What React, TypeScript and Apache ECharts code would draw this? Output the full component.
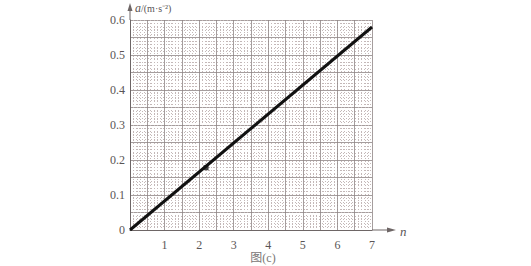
import React, { useEffect, useRef } from "react";
import * as echarts from "echarts";

// Fitted straight line a–n
const lineN: number[] = [0, 7];
const lineA: number[] = [0, 0.58];
// The one visible plotted point on the line
const pointN: number[] = [2.2];
const pointA: number[] = [0.178];
// Tick labels
const xTickLabels: string[] = ["", "1", "2", "3", "4", "5", "6", "7"];
const yTickLabels: string[] = ["0", "0.1", "0.2", "0.3", "0.4", "0.5", "0.6"];
const xName = "n";
const yNameItalic = "a";
const yNameRest = "/(m·s⁻²)";
const caption = "图(c)";

const SERIF = "Liberation Serif";
const MAJOR = "#8e8484";
const MINOR = "#c4b8b8";
const TEXT = "#5a5555";

export default function App() {
  const ref = useRef<HTMLDivElement>(null);
  useEffect(() => {
    document.body.style.margin = "0";
    const chart = echarts.init(ref.current!, null, { renderer: "svg" });
    const lineData = lineN.map((n, i) => [n, lineA[i]]);
    const pointData = pointN.map((n, i) => [n, pointA[i]]);
    const option: any = {
      animation: false,
      backgroundColor: "#ffffff",
      grid: { left: 130, right: 159, top: 20, bottom: 36 },
      xAxis: {
        type: "value",
        min: 0,
        max: 7,
        interval: 0.5,
        axisLine: { show: true, lineStyle: { color: "#6e6666", width: 1 } },
        axisTick: { show: false },
        axisLabel: {
          color: TEXT,
          fontFamily: SERIF,
          fontSize: 12,
          margin: 9,
          formatter: (v: number) => (Number.isInteger(v) ? xTickLabels[v] ?? "" : ""),
        },
        splitLine: { show: true, lineStyle: { color: MAJOR, width: 0.8 } },
        minorTick: { show: false, splitNumber: 5 },
        minorSplitLine: { show: true, lineStyle: { color: MINOR, width: 1, type: [1, 2] } },
      },
      yAxis: {
        type: "value",
        min: 0,
        max: 0.6,
        interval: 0.05,
        axisLine: { show: true, lineStyle: { color: "#6e6666", width: 1 } },
        axisTick: { show: false },
        axisLabel: {
          color: TEXT,
          fontFamily: SERIF,
          fontSize: 12,
          margin: 5,
          formatter: (v: number) => {
            const k = Math.round(v * 20);
            return k % 2 === 0 ? yTickLabels[k / 2] ?? "" : "";
          },
        },
        splitLine: { show: true, lineStyle: { color: MAJOR, width: 0.8 } },
        minorTick: { show: false, splitNumber: 5 },
        minorSplitLine: { show: true, lineStyle: { color: MINOR, width: 1, type: [1, 2] } },
      },
      series: [
        {
          type: "line",
          data: lineData,
          symbol: "none",
          lineStyle: { color: "#111111", width: 3 },
          z: 5,
        },
        {
          type: "scatter",
          data: pointData,
          symbol: "rect",
          symbolSize: 5,
          itemStyle: { color: "#111111" },
          z: 6,
        },
      ],
    };
    chart.setOption(option);

    const o = chart.convertToPixel({ gridIndex: 0 }, [0, 0]) as number[];
    const xe = chart.convertToPixel({ gridIndex: 0 }, [7, 0]) as number[];
    const ye = chart.convertToPixel({ gridIndex: 0 }, [0, 0.6]) as number[];
    const ac = "#6e6666";
    chart.setOption({
      graphic: [
        { type: "line", shape: { x1: xe[0], y1: xe[1], x2: xe[0] + 20, y2: xe[1] }, style: { stroke: ac, lineWidth: 1 } },
        { type: "polygon", shape: { points: [[xe[0] + 24, xe[1]], [xe[0] + 15, xe[1] - 2.5], [xe[0] + 15, xe[1] + 2.5]] }, style: { fill: ac } },
        { type: "text", x: xe[0] + 28, y: xe[1] + 1, style: { text: xName, font: `italic 13px ${SERIF}`, fill: TEXT, verticalAlign: "middle" } },
        { type: "line", shape: { x1: ye[0], y1: ye[1], x2: ye[0], y2: ye[1] - 14 }, style: { stroke: ac, lineWidth: 1 } },
        { type: "polygon", shape: { points: [[ye[0], ye[1] - 17], [ye[0] - 2.5, ye[1] - 9], [ye[0] + 2.5, ye[1] - 9]] }, style: { fill: ac } },
        {
          type: "text",
          x: ye[0] + 5,
          y: ye[1] - 12,
          style: {
            text: `{i|${yNameItalic}}{r|${yNameRest}}`,
            verticalAlign: "middle",
            rich: {
              i: { font: `italic 12px ${SERIF}`, fill: TEXT },
              r: { font: `10px ${SERIF}`, fill: TEXT },
            },
          },
        },
        {
          type: "text",
          x: (o[0] + xe[0]) / 2 + 12,
          y: o[1] + 28,
          style: { text: caption, font: `12px ${SERIF}, Noto Sans CJK SC`, fill: "#7a7575", align: "center", verticalAlign: "middle" },
        },
      ],
    });
    return () => chart.dispose();
  }, []);
  return <div ref={ref} style={{ width: 531, height: 266 }} />;
}
